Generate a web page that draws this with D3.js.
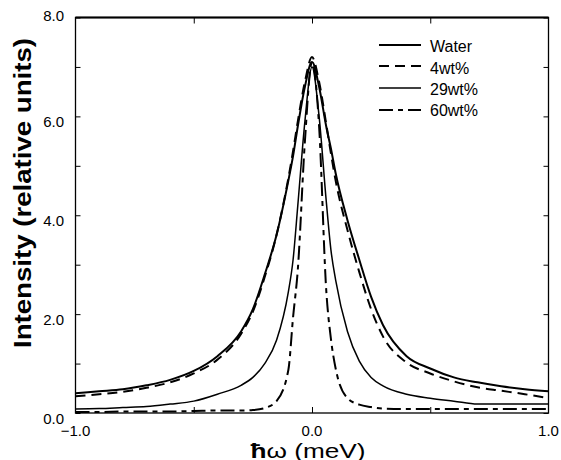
<!DOCTYPE html>
<html>
<head>
<meta charset="utf-8">
<script src="https://cdn.jsdelivr.net/npm/d3@7"></script>
<style>
  body { margin: 0; background: #fff; }
  svg { display: block; font-family: "Liberation Sans", Arial, sans-serif; }
</style>
</head>
<body>
<svg id="chart" width="561" height="460"></svg>
<script>
// ---- data ----
const energy = [-1.0, -0.9, -0.8, -0.7, -0.6, -0.5, -0.4, -0.3, -0.25, -0.2, -0.15, -0.1, -0.08, -0.06, -0.03, 0,
                0.03, 0.06, 0.08, 0.1, 0.15, 0.2, 0.25, 0.3, 0.4, 0.5, 0.6, 0.7, 0.8, 0.9, 1.0];
const water = [0.40, 0.44, 0.48, 0.56, 0.67, 0.85, 1.15, 1.65, 2.10, 2.80, 3.60, 4.70, 5.20, 5.80, 6.60, 7.10,
               6.60, 5.80, 5.35, 4.85, 3.90, 3.10, 2.35, 1.78, 1.15, 0.90, 0.72, 0.62, 0.54, 0.48, 0.44];
const wt4 = [0.34, 0.38, 0.43, 0.51, 0.62, 0.80, 1.08, 1.60, 2.05, 2.75, 3.60, 4.75, 5.30, 5.90, 6.70, 7.20,
             6.70, 5.85, 5.25, 4.70, 3.70, 2.85, 2.10, 1.55, 1.02, 0.80, 0.64, 0.52, 0.45, 0.38, 0.30];
const wt29 = [0.08, 0.09, 0.11, 0.13, 0.18, 0.24, 0.38, 0.56, 0.72, 1.00, 1.47, 2.45, 3.10, 4.20, 5.90, 7.00,
              6.00, 4.30, 3.30, 2.69, 1.65, 1.05, 0.72, 0.55, 0.38, 0.30, 0.24, 0.18, 0.18, 0.18, 0.18];
const wt60 = [0.02, 0.02, 0.03, 0.03, 0.03, 0.04, 0.05, 0.05, 0.06, 0.10, 0.24, 0.87, 1.94, 2.90, 5.50, 7.10,
              5.80, 2.50, 1.50, 0.90, 0.30, 0.17, 0.12, 0.09, 0.08, 0.08, 0.08, 0.08, 0.08, 0.08, 0.08];
const seriesNames = ["Water", "4wt%", "29wt%", "60wt%"];
const xTickLabels = ["\u22121.0", "0.0", "1.0"];
const xTickValues = [-1, 0, 1];
const yTickValues = [0, 2, 4, 6, 8];
const yTickLabels = ["0.0", "2.0", "4.0", "6.0", "8.0"];

// ---- layout ----
const svg = d3.select("#chart");
const L = 75.5, R = 548.5, T = 17.5, B = 413;
const x = d3.scaleLinear().domain([-1, 1]).range([L, R]);
const y = d3.scaleLinear().domain([0, 8]).range([B, T]);

const styles = [
  { w: 2.0, dash: null },
  { w: 2.0, dash: "10,6" },
  { w: 1.5, dash: null },
  { w: 2.0, dash: "14,5,5,5" }
];
const seriesData = [water, wt4, wt29, wt60];

// curves
const line = d3.line().x((d, i) => x(energy[i])).y(d => y(d)).curve(d3.curveMonotoneX);
seriesData.forEach((vals, k) => {
  svg.append("path")
    .attr("d", line(vals))
    .attr("fill", "none")
    .attr("stroke", "#000")
    .attr("stroke-width", styles[k].w)
    .attr("stroke-dasharray", styles[k].dash)
    .attr("stroke-linejoin", "round");
});

// axes (ticks inward)
const gL = svg.append("g").attr("transform", `translate(${L},0)`)
  .call(d3.axisRight(y).tickValues(d3.range(0, 8.01, 1)).tickSize(5).tickFormat(""));
const gR = svg.append("g").attr("transform", `translate(${R},0)`)
  .call(d3.axisLeft(y).tickValues(d3.range(0, 8.01, 1)).tickSize(5).tickFormat(""));
const gB = svg.append("g").attr("transform", `translate(0,${B})`)
  .call(d3.axisTop(x).tickValues([-0.5, 0, 0.5]).tickSize(6).tickFormat(""));
const gT = svg.append("g").attr("transform", `translate(0,${T})`)
  .call(d3.axisBottom(x).tickValues([-0.5, 0, 0.5]).tickSize(6).tickFormat(""));
[gL, gR, gB, gT].forEach(g => {
  g.select(".domain").remove();
  g.selectAll(".tick line").attr("stroke", "#000").attr("stroke-width", 1);
});

// frame
svg.append("rect").attr("x", L).attr("y", T).attr("width", R - L).attr("height", B - T)
  .attr("fill", "none").attr("stroke", "#000").attr("stroke-width", 1.3);
svg.append("line").attr("x1", L).attr("x2", R).attr("y1", T).attr("y2", T)
  .attr("stroke", "#000").attr("stroke-width", 2);

// tick labels
svg.append("g").selectAll("text").data(yTickValues).join("text")
  .attr("x", 64).attr("y", d => d === 8 ? y(d) + 3.5 : y(d) + 11)
  .attr("text-anchor", "end").attr("font-size", 15).text((d, i) => yTickLabels[i]);
svg.append("g").selectAll("text").data(xTickValues).join("text")
  .attr("x", d => x(d)).attr("y", 435.5)
  .attr("text-anchor", "middle").attr("font-size", 15).text((d, i) => xTickLabels[i]);

// axis titles
svg.append("text")
  .attr("transform", `translate(31,193) rotate(-90)`)
  .attr("text-anchor", "middle").attr("font-size", 23).attr("font-weight", "bold")
  .attr("textLength", 310).attr("lengthAdjust", "spacingAndGlyphs")
  .text("Intensity (relative units)");
const xt = svg.append("text").attr("x", 308).attr("y", 457.5)
  .attr("text-anchor", "middle").attr("font-size", 21)
  .attr("textLength", 115).attr("lengthAdjust", "spacingAndGlyphs");
xt.append("tspan").attr("font-weight", "bold").text("\u0127");
xt.append("tspan").text("\u03c9 (meV)");

// legend
const legY = [45, 66, 88, 110];
const legText = [52, 74, 95, 116];
seriesNames.forEach((name, k) => {
  svg.append("line").attr("x1", 379).attr("x2", 421).attr("y1", legY[k]).attr("y2", legY[k])
    .attr("stroke", "#000").attr("stroke-width", styles[k].w)
    .attr("stroke-dasharray", styles[k].dash);
  svg.append("text").attr("x", 430).attr("y", legText[k])
    .attr("font-size", 16).text(name);
});
</script>
</body>
</html>
